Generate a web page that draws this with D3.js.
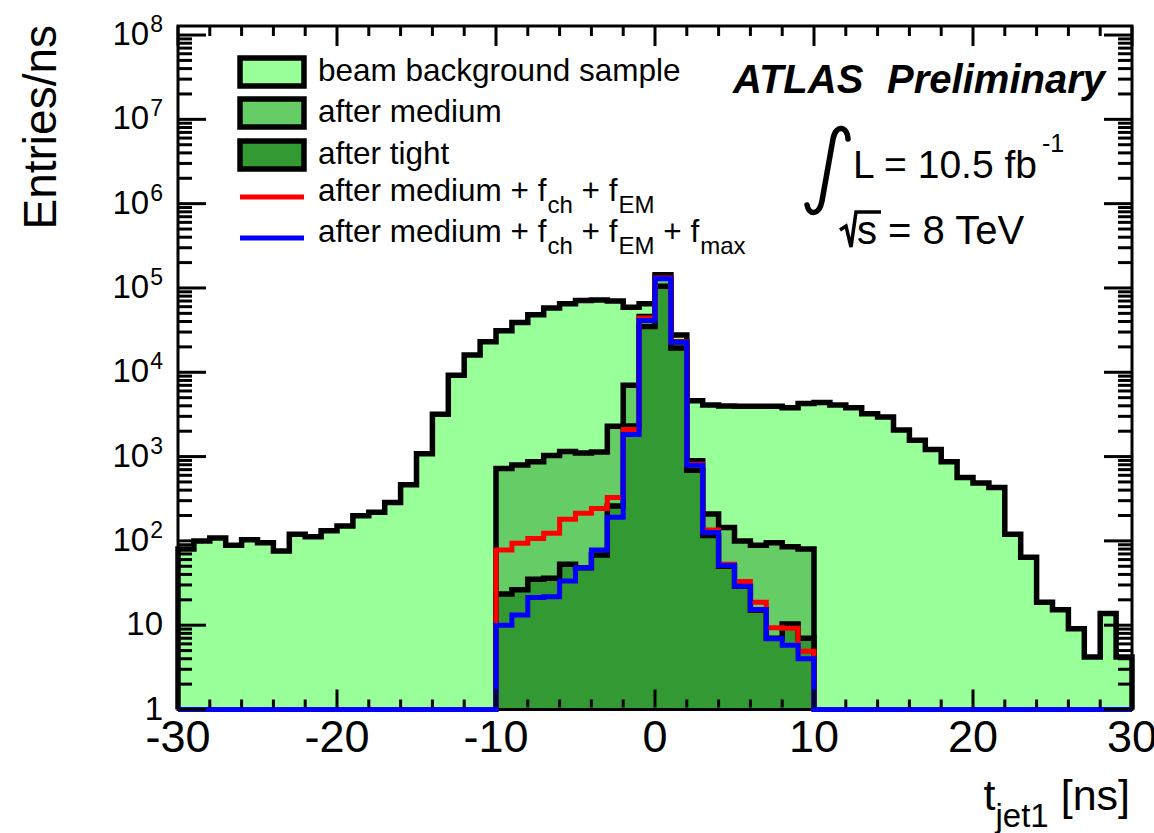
<!DOCTYPE html>
<html>
<head>
<meta charset="utf-8">
<script src="https://cdn.jsdelivr.net/npm/d3@7"></script>
<style>
  body { margin: 0; background: #fff; }
  svg { display: block; font-family: "Liberation Sans", Arial, Helvetica, sans-serif; }
</style>
</head>
<body>
<div id="container"></div>
<script>
// t_jet1 histogram, 1 ns bins from -30 to 30 (entries per ns)
const firstEdge = -30;
const beamBackground = [
  80, 100, 108, 89, 103, 95, 76, 120, 112, 132,
  150, 199, 219, 285, 464, 1080, 3170, 9200, 16000, 23000,
  31000, 39000, 48000, 58000, 65000, 71000, 72000, 70000, 59000, 65000,
  143000, 27600, 4600, 4090, 3990, 3950, 3950, 3950, 3800, 4270,
  4370, 4100, 3790, 3220, 2950, 2060, 1560, 1210, 870, 565,
  485, 430, 120, 64, 18.7, 15.2, 9.1, 4.2, 13.8, 4.2
];

// the selected samples only populate -10 .. 10 ns
const centralEdge = -10;
const afterMedium = [724, 795, 870, 1030, 1150, 1100, 1135, 2290, 7000, 46000,
  133000, 23000, 890, 208, 144, 100, 89, 95, 85, 80];
const afterTight = [23.4, 26.3, 35, 36, 53, 48, 68, 260, 2300, 35000,
  105000, 19400, 690, 116, 50, 29, 15, 7, 10.3, 7];
const afterChEM = [78, 94, 107, 123, 181, 213, 243, 328, 2100, 44000,
  131000, 23000, 810, 135, 53, 33, 18.7, 9.3, 9.2, 4.9];
const afterChEMMax = [10, 13.2, 21.3, 21.7, 33.4, 48, 78, 191, 1830, 41000,
  129000, 22700, 790, 126, 51, 29, 15.4, 6.9, 5.8, 4.0];

const xTickValues = [-30, -20, -10, 0, 10, 20, 30];
const yDecades = [0, 1, 2, 3, 4, 5, 6, 7, 8];

const W = 1154, H = 833;
const svg = d3.select('#container').append('svg').attr('width', W).attr('height', H);

const x = d3.scaleLinear().domain([-30, 30]).range([178, 1132]);
const y = d3.scaleLog().domain([1, 1.28e8]).range([709.5, 26]);
const yb = y(1);
const yv = v => v > 0 ? y(v) : yb;

const line = d3.line();

// step outline: starts and ends on the axis
const stepPoints = (values, start, lo = start, hi = start + values.length) => {
  const pts = [[x(lo), yb], [x(start), yb]];
  values.forEach((v, i) => {
    pts.push([x(start + i), yv(v)], [x(start + i + 1), yv(v)]);
  });
  pts.push([x(start + values.length), yb], [x(hi), yb]);
  return pts;
};

const drawFilled = (values, start, color) => {
  const pts = stepPoints(values, start);
  svg.append('path').attr('d', line(pts) + 'Z').attr('fill', color).attr('stroke', 'none');
  svg.append('path').attr('d', line(pts)).attr('fill', 'none')
    .attr('stroke', '#000').attr('stroke-width', 5.5).attr('stroke-linejoin', 'miter');
};

const colLight = '#99ff99', colMed = '#66cc66', colTight = '#339933';

drawFilled(beamBackground, firstEdge, colLight);
drawFilled(afterMedium, centralEdge, colMed);
drawFilled(afterTight, centralEdge, colTight);

// frame
const [x0, x1] = x.range();
const [y0, y1] = [yb, y.range()[1]];
svg.append('rect').attr('x', x0).attr('y', y1).attr('width', x1 - x0).attr('height', y0 - y1)
  .attr('fill', 'none').attr('stroke', '#000').attr('stroke-width', 3);

// red and blue selections sit on top of the frame
svg.append('path').attr('d', line(stepPoints(afterChEM, centralEdge, -30, 30)))
  .attr('fill', 'none').attr('stroke', '#ff0000').attr('stroke-width', 5);
svg.append('path').attr('d', line(stepPoints(afterChEMMax, centralEdge, -30, 30)))
  .attr('fill', 'none').attr('stroke', '#0000ff').attr('stroke-width', 5);

const ticks = svg.append('g').attr('stroke', '#000').attr('stroke-width', 3);

// x ticks: majors every 10, minors every 2
d3.range(-30, 31, 2).forEach(t => {
  const len = t % 10 === 0 ? 20 : 10;
  ticks.append('line').attr('x1', x(t)).attr('x2', x(t)).attr('y1', y0 - 2).attr('y2', y0 - len);
  ticks.append('line').attr('x1', x(t)).attr('x2', x(t)).attr('y1', y1).attr('y2', y1 + len);
});

// y ticks: log decades with 2..9 minors
yDecades.forEach(d => {
  [1, 2, 3, 4, 5, 6, 7, 8, 9].forEach(m => {
    const v = m * Math.pow(10, d);
    if (v > y.domain()[1]) return;
    const len = m === 1 ? 28 : 14;
    ticks.append('line').attr('x1', x0).attr('x2', x0 + len).attr('y1', y(v)).attr('y2', y(v));
    ticks.append('line').attr('x1', x1).attr('x2', x1 - len).attr('y1', y(v)).attr('y2', y(v));
  });
});

// x tick labels
svg.append('g').selectAll('text').data(xTickValues).join('text')
  .attr('x', d => x(d)).attr('y', 752)
  .attr('text-anchor', 'middle').attr('font-size', 45)
  .text(d => d);

// y tick labels
const yLab = svg.append('g').attr('font-size', 33).attr('text-anchor', 'end');
yDecades.forEach(d => {
  const ty = y(Math.pow(10, d));
  const t = yLab.append('text').attr('x', 163).attr('y', ty + 10);
  if (d === 0) t.text('1');
  else if (d === 1) t.text('10');
  else {
    t.append('tspan').text('10');
    t.append('tspan').attr('font-size', 23).attr('dx', 1).attr('dy', -13).text(d);
  }
});

// axis titles
svg.append('text').attr('transform', 'translate(56,25) rotate(-90)')
  .attr('text-anchor', 'end').attr('font-size', 46).text('Entries/ns');

const xt = svg.append('text').attr('x', 1130).attr('y', 810)
  .attr('text-anchor', 'end').attr('font-size', 43);
xt.append('tspan').text('t');
xt.append('tspan').attr('font-size', 33).attr('dy', 17).text('jet1');
xt.append('tspan').attr('dy', -17).text(' [ns]');

// legend
const legend = svg.append('g').attr('font-size', 31.5);
const boxEntries = [
  { label: 'beam background sample', color: colLight, cy: 72 },
  { label: 'after medium', color: colMed, cy: 113 },
  { label: 'after tight', color: colTight, cy: 155 }
];
boxEntries.forEach(e => {
  legend.append('rect').attr('x', 240).attr('y', e.cy - 14).attr('width', 64).attr('height', 28)
    .attr('fill', e.color).attr('stroke', '#000').attr('stroke-width', 5.5);
  legend.append('text').attr('x', 318).attr('y', e.cy + 9).text(e.label);
});

const lineEntries = [
  { parts: [['after medium + f'], ['ch', 1], [' + f'], ['EM', 1]], color: '#ff0000', cy: 197 },
  { parts: [['after medium + f'], ['ch', 1], [' + f'], ['EM', 1], [' + f'], ['max', 1]], color: '#0000ff', cy: 238 }
];
lineEntries.forEach(e => {
  legend.append('line').attr('x1', 240).attr('x2', 304).attr('y1', e.cy).attr('y2', e.cy)
    .attr('stroke', e.color).attr('stroke-width', 5);
  const t = legend.append('text').attr('x', 318).attr('y', e.cy + 4);
  let low = false;
  e.parts.forEach(([s, sub]) => {
    const sp = t.append('tspan').text(s);
    if (sub && !low) { sp.attr('font-size', 24).attr('dx', 1).attr('dy', 12); low = true; }
    else if (!sub && low) { sp.attr('dy', -12); low = false; }
  });
});

// ATLAS label
svg.append('text').attr('x', 733).attr('y', 93).attr('font-size', 40)
  .attr('font-weight', 'bold').attr('font-style', 'italic').text('ATLAS');
svg.append('text').attr('x', 1105).attr('y', 93).attr('font-size', 40).attr('text-anchor', 'end')
  .attr('font-weight', 'bold').attr('font-style', 'italic').text('Preliminary');

// luminosity and energy
svg.append('path')
  .attr('d', 'M848,139 C848,127 836,123 833,139 L822,201 C819,216 809,215 807,205')
  .attr('fill', 'none').attr('stroke', '#000').attr('stroke-width', 5.5).attr('stroke-linecap', 'round');
const lumi = svg.append('text').attr('x', 853).attr('y', 178).attr('font-size', 39);
lumi.append('tspan').text('L = 10.5 fb');
lumi.append('tspan').attr('font-size', 25).attr('dx', 5).attr('dy', -26).text('-1');

svg.append('path').attr('d', 'M840,230 L846,226 L851,247 L856,212 L881,212')
  .attr('fill', 'none').attr('stroke', '#000').attr('stroke-width', 3.5).attr('stroke-linejoin', 'miter');
svg.append('text').attr('x', 857).attr('y', 244).attr('font-size', 40).text('s = 8 TeV');
</script>
</body>
</html>
